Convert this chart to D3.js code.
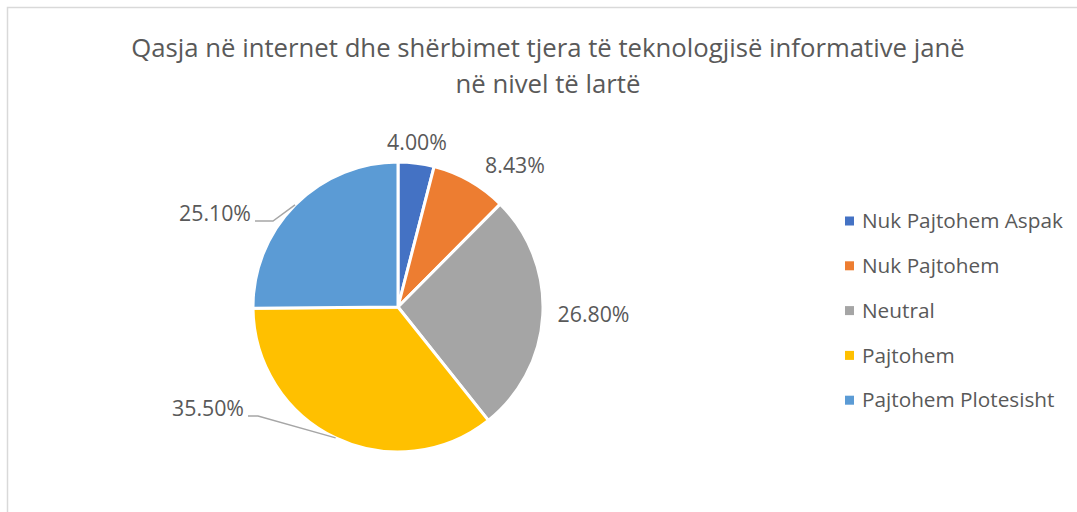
<!DOCTYPE html>
<html><head><meta charset="utf-8">
<script src="https://cdn.jsdelivr.net/npm/d3@7"></script>
<style>body{margin:0;background:#fff}svg{display:block}text{font-family:"Open Sans",sans-serif;fill:#595959}</style>
</head><body>
<svg id="c" width="1077" height="512"></svg>
<script>
const categories = ["Nuk Pajtohem Aspak","Nuk Pajtohem","Neutral","Pajtohem","Pajtohem Plotesisht"];
const values = [4.00, 8.43, 26.80, 35.50, 25.10];
const labels = ["4.00%","8.43%","26.80%","35.50%","25.10%"];
const colors = ["#4472C4","#ED7D31","#A5A5A5","#FFC000","#5B9BD5"];
const titleLines = ["Qasja në internet dhe shërbimet tjera të teknologjisë informative janë","në nivel të lartë"];

const svg = d3.select("#c");
svg.append("rect").attr("x",7.5).attr("y",7.5).attr("width",1200).attr("height",600)
  .attr("fill","#fff").attr("stroke","#D9D9D9").attr("stroke-width",1.5);

// title
const tg = svg.append("g");
titleLines.forEach((t,i)=>{
  tg.append("text").attr("x",548).attr("y",[57,93][i]).attr("text-anchor","middle")
    .style("font-size","22px").text(t);
});
const tw = tg.select("text").node().getComputedTextLength();
tg.selectAll("text").style("font-size",(22*834/tw)+"px");

const cx = 398, cy = 307, r = 145;
const g = svg.append("g").attr("transform",`translate(${cx},${cy})`);
const pie = d3.pie().sort(null).value(d=>d)(values);
const arc = d3.arc().innerRadius(0).outerRadius(r);
g.selectAll("path").data(pie).join("path").attr("d",arc)
  .attr("fill",(d,i)=>colors[i]).attr("stroke","#fff").attr("stroke-width",3).attr("stroke-linejoin","round");

// labels
const probe = g.append("text").style("font-size","20px").text("26.80%");
const fsL = 20*72/probe.node().getComputedTextLength();
probe.remove();
const labelCenter = {0:[19,-164.5],1:[117,-141.5],2:[195.5,8]};
const leaderCfg = {3:{elbow:[-140,109], end:[-150,109]}, 4:{elbow:[-125,-86], end:[-143,-86]}};
pie.forEach((d,i)=>{
  const a = (d.startAngle+d.endAngle)/2;
  const t = g.append("text").style("font-size",fsL+"px").attr("dy","0.35em").text(labels[i]);
  if(leaderCfg[i]){
    const L = leaderCfg[i];
    const p0 = [r*Math.sin(a), -r*Math.cos(a)];
    g.append("polyline").attr("points",[p0,L.elbow,L.end].map(p=>p.join(",")).join(" "))
      .attr("fill","none").attr("stroke","#A6A6A6").attr("stroke-width",1.5);
    t.attr("x",L.end[0]-4).attr("y",L.end[1]-7.5).attr("text-anchor","end");
  } else {
    const p = labelCenter[i];
    t.attr("x",p[0]).attr("y",p[1]).attr("text-anchor","middle");
  }
});

// legend
const lg = svg.append("g");
categories.forEach((n,i)=>{
  const y = 221 + i*44.8;
  lg.append("rect").attr("x",845).attr("y",y-4.5).attr("width",9).attr("height",9).attr("fill",colors[i]);
  lg.append("text").attr("x",862).attr("y",y).attr("dy","0.35em").style("font-size","19px").text(n);
});
const lw = lg.select("text").node().getComputedTextLength();
lg.selectAll("text").style("font-size",(19*201/lw)+"px");
</script>
</body></html>
